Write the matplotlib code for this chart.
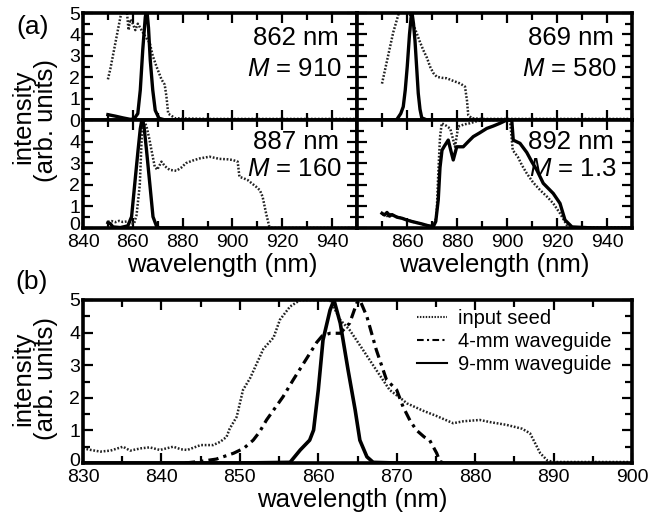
import numpy as np
import matplotlib.pyplot as plt
from matplotlib.ticker import MultipleLocator
from matplotlib.transforms import ScaledTranslation

plt.rcParams['font.family'] = ['Liberation Sans', 'DejaVu Sans']
plt.rcParams['mathtext.fontset'] = 'custom'
plt.rcParams['mathtext.rm'] = 'Liberation Sans'
plt.rcParams['mathtext.it'] = 'Liberation Sans:italic'

# ---- panel (a) data: input seed (dotted) and output (solid) ----
tl_seed_x = [850, 851, 852, 853, 854, 855, 856, 857.5, 858.3, 859, 860, 861, 862, 863, 864, 865,
             866.8, 868, 869.5, 871.5, 872.8, 873.5, 874.2, 877, 890, 910, 930, 950]
tl_seed_y = [1.9, 2.4, 3.0, 3.6, 4.2, 4.8, 5.2, 5.2, 4.2, 4.7, 4.5, 4.2, 4.5, 4.3, 4.1, 3.9,
             3.6, 3.0, 2.5, 1.9, 1.65, 1.1, 0.3, 0.08, 0.05, 0.05, 0.05, 0.05]
tl_out_x = [850, 853, 856, 859, 860.5, 862, 863, 864, 865, 865.6, 866.3, 867, 868, 869, 870.5, 873, 880]
tl_out_y = [0.25, 0.18, 0.1, 0.03, 0.05, 0.3, 1.4, 3.3, 4.8, 5.2, 4.3, 2.8, 1.4, 0.45, 0.08, 0.0, 0.0]

tr_seed_x = [850, 851.5, 853, 854.5, 856, 857.2, 860.5, 862, 863.9, 865, 866.5, 868, 869.2, 870.5,
             871.9, 874, 875.9, 878, 881.2, 883.2, 884, 884.5, 885.9, 890, 910, 930, 950]
tr_seed_y = [1.7, 2.5, 3.3, 4.1, 4.7, 5.2, 5.2, 4.6, 4.05, 3.7, 3.27, 2.9, 2.5, 2.2,
             2.02, 1.97, 1.95, 1.85, 1.71, 1.56, 0.9, 0.23, 0.08, 0.05, 0.05, 0.05, 0.05]
tr_out_x = [850, 853, 855.9, 857.5, 858.5, 859.3, 860.1, 861, 861.9, 862.6, 863.2, 864, 864.5, 865.2, 865.9, 868, 880]
tr_out_y = [0, 0, 0.02, 0.3, 0.62, 1.4, 2.5, 4.0, 5.1, 4.5, 3.7, 2.2, 1.25, 0.5, 0.1, 0, 0]

bl_seed_x = [850, 851.5, 853, 854.5, 856, 857.5, 859, 860.5, 861.5, 862.8, 863.5, 864.1, 865.5, 866.5,
             867.5, 868.8, 869.8, 871.5, 873, 874.8, 877.5, 879.5, 881.3, 884, 886.8, 890.8, 894.8,
             898, 900.1, 902.1, 902.8, 904.5, 906.1, 909.5, 911, 912.1, 913.5, 914.8, 916, 930, 950]
bl_seed_y = [0.29, 0.32, 0.27, 0.33, 0.28, 0.3, 0.22, 0.2, 0.6, 2.0, 4.0, 5.1, 4.7, 4.2,
             3.6, 2.84, 2.7, 3.07, 2.85, 2.69, 2.65, 2.8, 3.0, 3.12, 3.22, 3.3, 3.2,
             3.18, 3.15, 3.07, 2.37, 2.3, 2.22, 1.91, 1.75, 1.45, 0.68, 0.06, 0.0, 0.0, 0.0]
bl_out_x = [850, 851, 852, 855, 858, 859.5, 860.8, 862.1, 863, 863.8, 864.5, 865.5, 866.8, 868.1, 869.6, 871, 880]
bl_out_y = [0.25, 0.2, 0.05, 0.02, 0.1, 0.52, 2.07, 3.6, 4.6, 5.1, 4.7, 3.6, 2.07, 0.52, 0.06, 0, 0]

br_seed_x = [850, 851, 852, 853, 855, 858, 862, 866, 870.5, 871.8, 872.5, 873.2, 873.9, 875.5, 877.3,
             879.2, 880.5, 883, 885.2, 888, 891.9, 901.2, 902.3, 904.3, 906, 907.9, 910.5, 913.2,
             916, 918.5, 921.2, 923.9, 925, 935, 950]
br_seed_y = [0.6, 0.7, 0.55, 0.65, 0.55, 0.45, 0.3, 0.18, 0.06, 0.5, 2.5, 4.2, 4.85, 4.75, 4.6,
             3.76, 4.7, 4.8, 4.85, 4.95, 5.0, 5.0, 3.6, 3.3, 2.9, 2.53, 2.1, 1.76,
             1.45, 1.14, 0.68, 0.14, 0.02, 0.02, 0.02]
br_out_x = [850, 851, 852, 853, 854, 856, 858, 859.9, 862, 865.9, 868, 870.5, 871.5, 872.5, 873.2,
            874, 875, 876.5, 877.5, 878.5, 879.9, 882.5, 884.5, 886.5, 889, 891.9, 894.5, 897.2,
            899.9, 901.9, 902.5, 905.2, 907.9, 910, 911.9, 914.5, 918.5, 921.2, 923.2, 926, 935, 950]
br_out_y = [0.68, 0.6, 0.72, 0.55, 0.62, 0.5, 0.45, 0.37, 0.3, 0.19, 0.12, 0.06, 0.3, 1.3, 2.8,
            3.6, 3.8, 4.07, 3.6, 3.15, 3.76, 3.76, 4.0, 4.23, 4.4, 4.61, 4.72, 4.85,
            5.0, 5.0, 4.07, 3.92, 3.5, 3.05, 2.69, 2.07, 1.6, 1.14, 0.37, 0.05, 0, 0]

a_labels = [("862 nm", "910"), ("869 nm", "580"), ("887 nm", "160"), ("892 nm", "1.3")]

# ---- panel (b) data ----
seed_x = [830, 831, 832.2, 833.5, 835.1, 836, 837.4, 838.5, 839.8, 841.5, 842.5, 843.3, 845, 846.6,
          847.5, 848.3, 848.7, 849.6, 850.4, 851.3, 853, 854.3, 855.1, 856.4, 857.7, 861.5, 862.8,
          864, 865.7, 867.4, 869.1, 870.8, 871.3, 873.4, 875, 877.2, 878.5, 880.6, 882, 884, 886,
          887, 888.3, 889.2, 890, 895, 900]
seed_y = [0.45, 0.4, 0.35, 0.38, 0.5, 0.38, 0.45, 0.48, 0.4, 0.5, 0.42, 0.4, 0.55, 0.55,
          0.65, 0.8, 1.05, 1.42, 2.24, 2.6, 3.5, 3.85, 4.39, 4.8, 5.0, 5.0, 4.39,
          4.08, 3.47, 2.85, 2.24, 1.93, 1.83, 1.6, 1.45, 1.22, 1.28, 1.32, 1.25, 1.17, 1.05,
          0.91, 0.3, 0.08, 0.03, 0.03, 0.03]
wg4_x = [843, 845, 847, 849.2, 850.5, 851.7, 852.5, 853.4, 855.5, 856.8, 858.5, 859.8, 860.5, 861.5,
         862.8, 864, 864.9, 865.3, 866.2, 867.4, 868.7, 870, 870.8, 871.7, 872.5, 873.5, 874.2,
         875.1, 875.5, 876]
wg4_y = [0, 0.05, 0.12, 0.3, 0.45, 0.7, 0.95, 1.32, 2.03, 2.55, 3.2, 3.7, 3.9, 3.98,
         3.98, 4.29, 4.9, 5.0, 4.49, 3.47, 2.55, 2.24, 1.73, 1.3, 1.01, 0.8, 0.7,
         0.3, 0.05, 0]
wg9_x = [830, 850, 856.4, 857.7, 858.9, 859.4, 860, 860.6, 861.5, 862, 862.8, 863.8, 864.7, 865.3,
         866.2, 867, 870, 880]
wg9_y = [0, 0, 0.02, 0.4, 0.7, 1.01, 2.24, 3.77, 4.69, 5.0, 4.29, 2.85, 1.63, 0.7,
         0.19, 0.02, 0, 0]

W, H = 655, 514
fig = plt.figure(figsize=(W / 100, H / 100), dpi=100)


def rect(x0, y0, x1, y1):
    return [x0 / W, 1 - y1 / H, (x1 - x0) / W, (y1 - y0) / H]


def style(ax, xmaj, xmin):
    for s in ax.spines.values():
        s.set_linewidth(2.6)
    ax.xaxis.set_major_locator(MultipleLocator(xmaj))
    ax.xaxis.set_minor_locator(MultipleLocator(xmin))
    ax.yaxis.set_major_locator(MultipleLocator(1))
    ax.yaxis.set_minor_locator(MultipleLocator(0.5))
    ax.tick_params(which='both', direction='in', top=True, right=True,
                   width=1.6, labelsize=14, colors='black')
    ax.tick_params(axis='x', which='both', pad=4.5)
    ax.tick_params(axis='y', which='both', pad=2)
    ax.tick_params(which='major', length=7)
    ax.tick_params(which='minor', length=5)


def lift_zero(ax):
    # nudge the corner "0" up a little so it clears the x labels
    lbl = ax.yaxis.get_major_ticks()[0].label1
    lbl.set_transform(lbl.get_transform() + ScaledTranslation(0, 4 / 100, fig.dpi_scale_trans))


ax_tl = fig.add_axes(rect(83, 13, 357, 120))
ax_tr = fig.add_axes(rect(357, 13, 632, 120))
ax_bl = fig.add_axes(rect(83, 120, 357, 228))
ax_br = fig.add_axes(rect(357, 120, 632, 228))

panels = [(ax_tl, tl_seed_x, tl_seed_y, tl_out_x, tl_out_y),
          (ax_tr, tr_seed_x, tr_seed_y, tr_out_x, tr_out_y),
          (ax_bl, bl_seed_x, bl_seed_y, bl_out_x, bl_out_y),
          (ax_br, br_seed_x, br_seed_y, br_out_x, br_out_y)]

for i, (ax, sx, sy, ox, oy) in enumerate(panels):
    ax.plot(sx, sy, color='#222222', lw=1.8, ls=(0, (0.7, 0.7)))
    ax.plot(ox, oy, color='black', lw=2.4)
    ax.set_xlim(840, 950)
    ax.set_ylim(0, 5)
    style(ax, 20, 10)
    nm, m = a_labels[i]
    top_row = i < 2
    ax.text(0.935, 0.77 if top_row else 0.80, nm, transform=ax.transAxes,
            ha='right', va='center', fontsize=18.5)
    ax.text(0.945, 0.475 if top_row else 0.55, "$M$ = " + m, transform=ax.transAxes,
            ha='right', va='center', fontsize=18.5)

ax_tl.tick_params(labelbottom=False)
ax_tr.tick_params(labelbottom=False, labelleft=False)
ax_br.tick_params(labelleft=False)
ax_bl.set_yticks([0, 1, 2, 3, 4, 5], ['0', '1', '2', '3', '4', ''])
ax_br.set_xticks([840, 860, 880, 900, 920, 940], ['', '860', '880', '900', '920', '940'])
lift_zero(ax_bl)

fig.text(33 / W, 1 - 27 / H, "(a)", fontsize=19, ha='center', va='center')
fig.text(23 / W, 1 - 117 / H, "intensity", fontsize=18.5, rotation=90, ha='center', va='center')
fig.text(46 / W, 1 - 121 / H, "(arb. units)", fontsize=18.5, rotation=90, ha='center', va='center')
fig.text(222 / W, 1 - 265 / H, "wavelength (nm)", fontsize=18.5, ha='center', va='center')
fig.text(494 / W, 1 - 265 / H, "wavelength (nm)", fontsize=18.5, ha='center', va='center')

# ---- panel (b) ----
ax_b = fig.add_axes(rect(83, 300, 632, 463))
ax_b.plot(seed_x, seed_y, color='#222222', lw=1.8, ls=(0, (0.7, 0.7)), label='input seed')
ax_b.plot(wg4_x, wg4_y, color='black', lw=2.3, ls=(0, (3.2, 1.6, 1.0, 1.6)), label='4-mm waveguide')
ax_b.plot(wg9_x, wg9_y, color='black', lw=2.6, label='9-mm waveguide')
ax_b.set_xlim(830, 900)
ax_b.set_ylim(0, 5)
style(ax_b, 10, 5)
ax_b.set_yticks([0, 1, 2, 3, 4, 5])
lift_zero(ax_b)
leg = ax_b.legend(loc='upper right', bbox_to_anchor=(612 / W, 1 - 309 / H),
                  bbox_transform=fig.transFigure, frameon=False, fontsize=14.5,
                  handlelength=1.5, handletextpad=0.55, labelspacing=0.2,
                  borderaxespad=0, borderpad=0)
for h in leg.get_lines():
    h.set_linewidth(1.5)

fig.text(32 / W, 1 - 282 / H, "(b)", fontsize=19, ha='center', va='center')
fig.text(23 / W, 1 - 379 / H, "intensity", fontsize=18.5, rotation=90, ha='center', va='center')
fig.text(46 / W, 1 - 379 / H, "(arb. units)", fontsize=18.5, rotation=90, ha='center', va='center')
fig.text(352 / W, 1 - 500 / H, "wavelength (nm)", fontsize=18.5, ha='center', va='center')

fig.savefig('out.png', dpi=100)
